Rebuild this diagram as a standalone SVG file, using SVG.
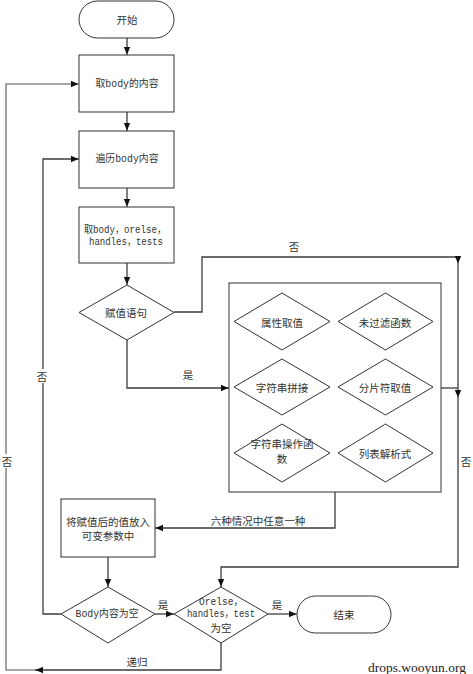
<svg xmlns="http://www.w3.org/2000/svg" width="473" height="674" viewBox="0 0 473 674">
<style>
.shape{fill:#fff;stroke:#333;stroke-width:1}
.c{fill:none;stroke:#3c3c3c;stroke-width:1.3}
.g{fill:none;stroke:#8a8a8a;stroke-width:1.6}
text{font-family:"Liberation Mono","Noto Sans CJK SC",monospace;font-size:10px;fill:#333;text-anchor:middle;dominant-baseline:central}
.cj{font-family:"Noto Sans CJK SC",sans-serif;font-size:10.5px}
.wm{font-family:"Liberation Serif",serif;font-size:13.5px;fill:#222;text-anchor:start}
</style>
<defs>
<marker id="a" markerUnits="userSpaceOnUse" markerWidth="8" markerHeight="8" viewBox="0 0 8 8" refX="8" refY="4" orient="auto">
<path d="M0,0.8 L7.5,4 L0,7.2 Z" fill="#111"/>
</marker>
</defs>
<rect width="473" height="674" fill="#fff"/>
<g id="connectors">
<path class="c" d="M127,38 V55" marker-end="url(#a)"/>
<path class="c" d="M127,112 V131" marker-end="url(#a)"/>
<path class="c" d="M127,188 V207" marker-end="url(#a)"/>
<path class="c" d="M127,263 V285" marker-end="url(#a)"/>
<path class="c" d="M174,312 H202 V257 H458 V264" marker-end="url(#a)"/>
<path class="c" d="M458,264 V398" marker-end="url(#a)"/>
<path class="c" d="M458,398 V567 H221 V587" marker-end="url(#a)"/>
<path class="c" d="M441,388 H458"/>
<path class="c" d="M127,340 V388 H229" marker-end="url(#a)"/>
<path class="c" d="M335,492 V528 H155" marker-end="url(#a)"/>
<path class="c" d="M108,557 V587" marker-end="url(#a)"/>
<path class="c" d="M155,614 H174" marker-end="url(#a)"/>
<path class="c" d="M268,614 H297" marker-end="url(#a)"/>
<path class="c" d="M61,614 H43 V159 H79" marker-end="url(#a)"/>
<path class="c" d="M221,643 V670 H35" marker-end="url(#a)"/>
<path class="g" d="M35,670 H6 V84 H79" marker-end="url(#a)"/>
</g>
<g id="labels">
<text class="cj" x="294" y="246">否</text>
<rect x="460" y="454" width="12" height="14" fill="#fff"/>
<text class="cj" x="466" y="461">否</text>
<text class="cj" x="188" y="374">是</text>
<text class="cj" x="258" y="520">六种情况中任意一种</text>
<text class="cj" x="163" y="604">是</text>
<text class="cj" x="277" y="604">是</text>
<rect x="36" y="369" width="13" height="14" fill="#fff"/>
<text class="cj" x="42" y="376">否</text>
<rect x="0" y="454" width="13" height="14" fill="#fff"/>
<text class="cj" x="7" y="461">否</text>
<text class="cj" x="137" y="661">递归</text>
</g>
<g id="start">
<rect class="shape" x="79" y="1" width="95" height="37" rx="18.5"/>
<text class="cj" x="127" y="19">开始</text>
</g>
<g id="getBody">
<rect class="shape" x="79" y="55" width="95" height="57"/>
<text x="127" y="84" textLength="63" lengthAdjust="spacingAndGlyphs">取body的内容</text>
</g>
<g id="traverse">
<rect class="shape" x="79" y="131" width="95" height="57"/>
<text x="127" y="159" textLength="63" lengthAdjust="spacingAndGlyphs">遍历body内容</text>
</g>
<g id="getFields">
<rect class="shape" x="79" y="207" width="95" height="56"/>
<text x="125" y="230" textLength="82" lengthAdjust="spacingAndGlyphs">取body，orelse，</text>
<text x="126" y="242" textLength="74" lengthAdjust="spacingAndGlyphs">handles，tests</text>
</g>
<g id="assign">
<polygon class="shape" points="127,285 174,312.5 127,340 79,312.5"/>
<text class="cj" x="126" y="312">赋值语句</text>
</g>
<g id="cases">
<rect class="shape" x="229" y="283" width="212" height="209"/>
<g id="attr">
<polygon class="shape" points="282,293 330,321.5 282,350 234,321.5"/>
<text class="cj" x="282" y="322">属性取值</text>
</g>
<g id="unfiltered">
<polygon class="shape" points="385.5,293 433,321.5 385.5,350 338,321.5"/>
<text class="cj" x="385" y="322">未过滤函数</text>
</g>
<g id="concat">
<polygon class="shape" points="282,359 330,387 282,415 234,387"/>
<text class="cj" x="282" y="387">字符串拼接</text>
</g>
<g id="slice">
<polygon class="shape" points="385.5,359 433,387 385.5,415 338,387"/>
<text class="cj" x="385" y="387">分片符取值</text>
</g>
<g id="strfunc">
<polygon class="shape" points="282,424 330,453 282,482 234,453"/>
<text class="cj" x="282" y="443">字符串操作函</text>
<text class="cj" x="282" y="458">数</text>
</g>
<g id="listcomp">
<polygon class="shape" points="385.5,424 433,453 385.5,482 338,453"/>
<text class="cj" x="385" y="453">列表解析式</text>
</g>
</g>
<g id="store">
<rect class="shape" x="61" y="499" width="94" height="58"/>
<text class="cj" x="108" y="521">将赋值后的值放入</text>
<text class="cj" x="108" y="535">可变参数中</text>
</g>
<g id="bodyEmpty">
<polygon class="shape" points="108,587 155,614 108,643 61,614"/>
<text x="107" y="614" textLength="63" lengthAdjust="spacingAndGlyphs">Body内容为空</text>
</g>
<g id="restEmpty">
<polygon class="shape" points="221,587 268,614 221,643 174,614"/>
<text x="221" y="602" textLength="44" lengthAdjust="spacingAndGlyphs">Orelse，</text>
<text x="221" y="614" textLength="68" lengthAdjust="spacingAndGlyphs">handles，test</text>
<text class="cj" x="221" y="627">为空</text>
</g>
<g id="end">
<rect class="shape" x="297" y="596" width="94" height="37" rx="18.5"/>
<text class="cj" x="344" y="614">结束</text>
</g>
<text class="wm" x="368" y="667">drops.wooyun.org</text>
</svg>
